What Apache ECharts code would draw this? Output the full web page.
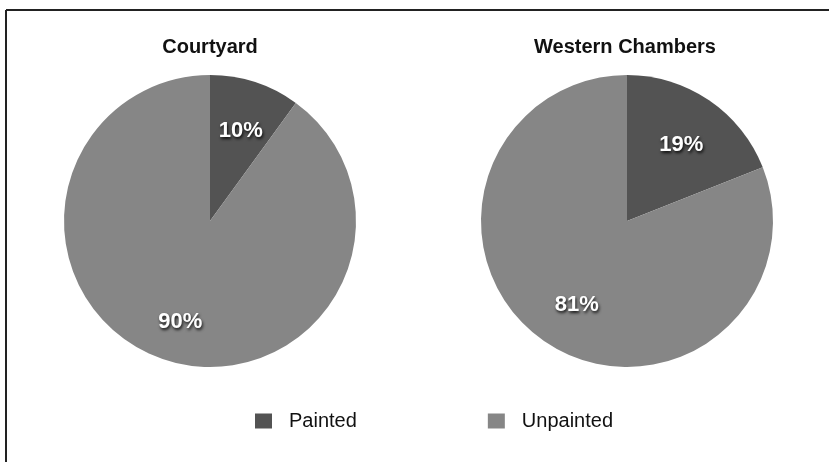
<!DOCTYPE html>
<html>
<head>
<meta charset="utf-8">
<script src="https://cdn.jsdelivr.net/npm/echarts@6/dist/echarts.min.js"></script>
<style>html,body{margin:0;padding:0;background:#fff;}#c{width:829px;height:462px;}</style>
</head>
<body>
<div id="c"></div>
<script>
const categories = ['Painted', 'Unpainted'];
const courtyardValues = [10, 90];
const westernValues = [19, 81];
const pieTitles = ['Courtyard', 'Western Chambers'];
const colors = ['#535353', '#868686'];

const chart = echarts.init(document.getElementById('c'));
const font = '"Liberation Sans", Arial, Helvetica, sans-serif';

function mk(vals) {
  return categories.map((n, i) => ({ name: n, value: vals[i], itemStyle: { color: colors[i] } }));
}
function basePie(vals, cx) {
  return {
    type: 'pie', center: [cx, 221], radius: [0, 146], startAngle: 90, clockwise: true,
    silent: true, label: { show: false }, labelLine: { show: false },
    itemStyle: { borderWidth: 0 }, emphasis: { disabled: true },
    data: mk(vals)
  };
}
function labelPie(vals, cx, r0, offsets) {
  return {
    type: 'pie', center: [cx, 221], radius: [r0, 146], startAngle: 90, clockwise: true,
    silent: true, emphasis: { disabled: true }, legendHoverLink: false,
    itemStyle: { color: 'rgba(0,0,0,0)', borderWidth: 0 },
    label: {
      show: true, position: 'inside', formatter: '{c}%', color: '#fff',
      fontFamily: font, fontWeight: 'bold', fontSize: 22,
      textShadowColor: 'rgba(0,0,0,0.85)', textShadowBlur: 3, textShadowOffsetX: 1, textShadowOffsetY: 2
    },
    labelLine: { show: false },
    data: categories.map((n, i) => ({ name: n, value: vals[i], label: { offset: offsets[i] } }))
  };
}

chart.setOption({
  animation: false,
  backgroundColor: '#fff',
  title: [
    { text: pieTitles[0], left: 205, top: 32, textAlign: 'center', textStyle: { fontFamily: font, fontWeight: 'bold', fontSize: 20, color: '#111' } },
    { text: pieTitles[1], left: 620, top: 32, textAlign: 'center', textStyle: { fontFamily: font, fontWeight: 'bold', fontSize: 20, color: '#111' } }
  ],
  legend: {
    left: 250, top: 406, itemWidth: 17, itemHeight: 15, itemGap: 131, icon: 'rect',
    textStyle: { fontFamily: font, fontSize: 20, color: '#111', padding: [0, 0, 0, 12] },
    data: categories.map((n, i) => ({ name: n, itemStyle: { color: colors[i] } })),
    selectedMode: false
  },
  graphic: [
    { type: 'line', shape: { x1: 6, y1: 10, x2: 829, y2: 10 }, style: { stroke: '#222', lineWidth: 2 } },
    { type: 'line', shape: { x1: 6, y1: 10, x2: 6, y2: 462 }, style: { stroke: '#222', lineWidth: 2 } }
  ],
  series: [
    basePie(courtyardValues, 210),
    basePie(westernValues, 627),
    labelPie(courtyardValues, 210, 54, [[-1, 8], [2, 3]]),
    labelPie(westernValues, 627, 48, [[-2, 7], [6, 1]])
  ]
});
</script>
</body>
</html>
